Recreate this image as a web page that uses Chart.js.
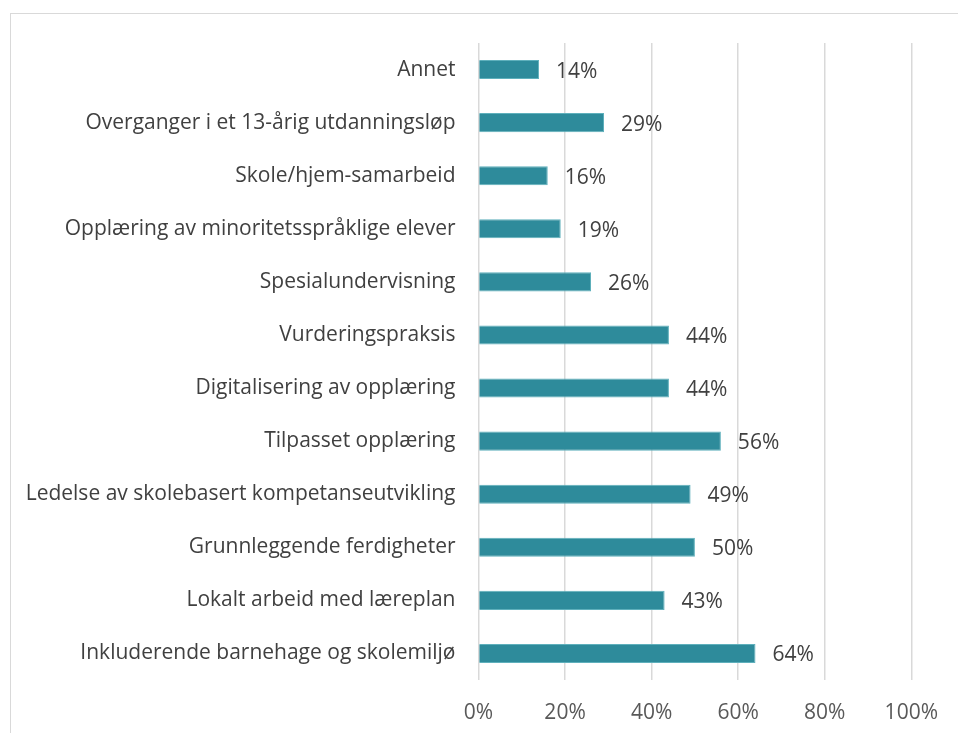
<!DOCTYPE html>
<html>
<head>
<meta charset="utf-8">
<script src="https://cdn.jsdelivr.net/npm/chart.js@4"></script>
<style>
  html, body { margin: 0; padding: 0; background: #fff; overflow: hidden; }
  #wrap { position: relative; width: 958px; height: 733px; }
  #frame { position: absolute; left: 10px; top: 13px; width: 1000px; height: 800px; border: 1.5px solid #d9d9d9; box-sizing: border-box; }
  canvas { position: absolute; left: 0; top: 0; }
</style>
</head>
<body>
<div id="wrap">
  <div id="frame"></div>
  <canvas id="c" width="958" height="733"></canvas>
</div>
<script>
const categories = [
  "Annet",
  "Overganger i et 13-årig utdanningsløp",
  "Skole/hjem-samarbeid",
  "Opplæring av minoritetsspråklige elever",
  "Spesialundervisning",
  "Vurderingspraksis",
  "Digitalisering av opplæring",
  "Tilpasset opplæring",
  "Ledelse av skolebasert kompetanseutvikling",
  "Grunnleggende ferdigheter",
  "Lokalt arbeid med læreplan",
  "Inkluderende barnehage og skolemiljø"
];
const values = [14, 29, 16, 19, 26, 44, 44, 56, 49, 50, 43, 64];
const xTicks = [0, 20, 40, 60, 80, 100];

const FONT = "'Open Sans', 'Noto Sans', sans-serif";
const FSIZE = 21;

const labelPlugin = {
  id: 'barLabels',
  afterDatasetsDraw(chart) {
    const ctx = chart.ctx;
    const meta = chart.getDatasetMeta(0);
    ctx.save();
    ctx.font = FSIZE + "px " + FONT;
    ctx.fillStyle = "#404040";
    ctx.textAlign = "left";
    ctx.textBaseline = "middle";
    meta.data.forEach((bar, i) => {
      ctx.fillText(values[i] + "%", bar.x + 17, bar.y + 2);
    });
    ctx.restore();
  }
};

new Chart(document.getElementById('c'), {
  type: 'bar',
  data: {
    labels: categories,
    datasets: [{
      data: values,
      backgroundColor: '#2e8b9b',
      borderColor: '#5fb0bc',
      borderWidth: 1,
      barPercentage: 0.36,
      categoryPercentage: 1.0
    }]
  },
  options: {
    indexAxis: 'y',
    responsive: false,
    animation: false,
    layout: { padding: { top: 43, right: 44, left: 0, bottom: 0 } },
    plugins: { legend: { display: false }, tooltip: { enabled: false } },
    scales: {
      x: {
        min: 0, max: 100,
        afterBuildTicks(scale) { scale.ticks = xTicks.map(v => ({ value: v })); },
        afterFit(scale) { scale.height = 53; },
        grid: { color: '#d9d9d9', lineWidth: 1.5, drawTicks: false },
        border: { display: false },
        ticks: {
          padding: 20,
          color: '#595959',
          font: { family: FONT, size: FSIZE },
          callback: v => v + '%'
        }
      },
      y: {
        afterFit(scale) { scale.width = 478.5; },
        grid: { display: false, drawTicks: false },
        border: { display: false },
        ticks: {
          padding: 23,
          color: '#404040',
          font: { family: FONT, size: FSIZE }
        }
      }
    }
  },
  plugins: [labelPlugin]
});
</script>
</body>
</html>
